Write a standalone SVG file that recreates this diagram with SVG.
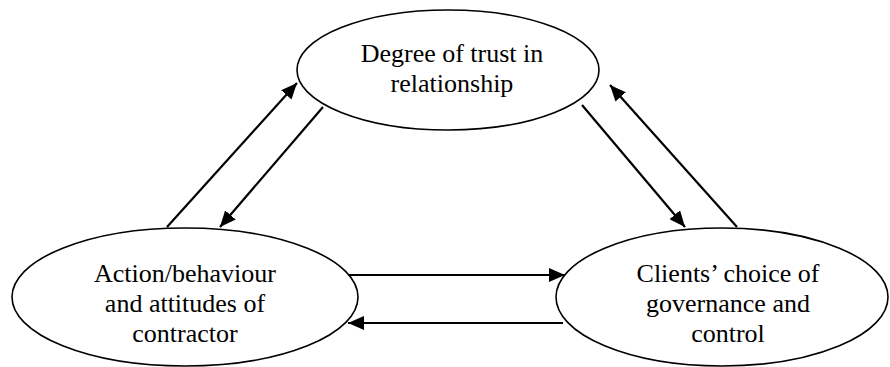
<svg xmlns="http://www.w3.org/2000/svg" width="890" height="367" viewBox="0 0 890 367">
<style>
.node ellipse{fill:#fff;stroke:#000;stroke-width:1.6}
.node text{font-size:26px;fill:#000;text-anchor:middle}
.conn line{stroke:#000;stroke-width:2.2;fill:none;marker-end:url(#ah)}
</style>
<defs>
<marker id="ah" markerUnits="userSpaceOnUse" markerWidth="18" markerHeight="14" refX="16" refY="7" orient="auto">
<path d="M0,0 L16,7 L0,14 Z" fill="#000"/>
</marker>
</defs>
<rect width="890" height="367" fill="#fff"/>
<g class="conn" id="connectors">
<line x1="167" y1="227" x2="297" y2="83"/>
<line x1="323" y1="107" x2="220" y2="227"/>
<line x1="582" y1="105" x2="685" y2="227"/>
<line x1="737" y1="227" x2="610" y2="85"/>
<line x1="347" y1="275" x2="565" y2="275"/>
<line x1="563" y1="323" x2="348" y2="323"/>
</g>
<g class="node" id="trust" font-family="'Liberation Serif', 'Times New Roman', Times, serif">
<ellipse cx="448" cy="70" rx="151" ry="60"/>
<text x="452" y="62">Degree of trust in</text>
<text x="452" y="92">relationship</text>
</g>
<g class="node" id="contractor" font-family="'Liberation Serif', 'Times New Roman', Times, serif">
<ellipse cx="185" cy="297" rx="173" ry="69"/>
<text x="185" y="282">Action/behaviour</text>
<text x="185" y="312">and attitudes of</text>
<text x="185" y="342">contractor</text>
</g>
<g class="node" id="client" font-family="'Liberation Serif', 'Times New Roman', Times, serif">
<ellipse cx="722" cy="297" rx="166" ry="69"/>
<text x="728" y="282">Clients’ choice of</text>
<text x="728" y="312">governance and</text>
<text x="728" y="342">control</text>
</g>
</svg>
